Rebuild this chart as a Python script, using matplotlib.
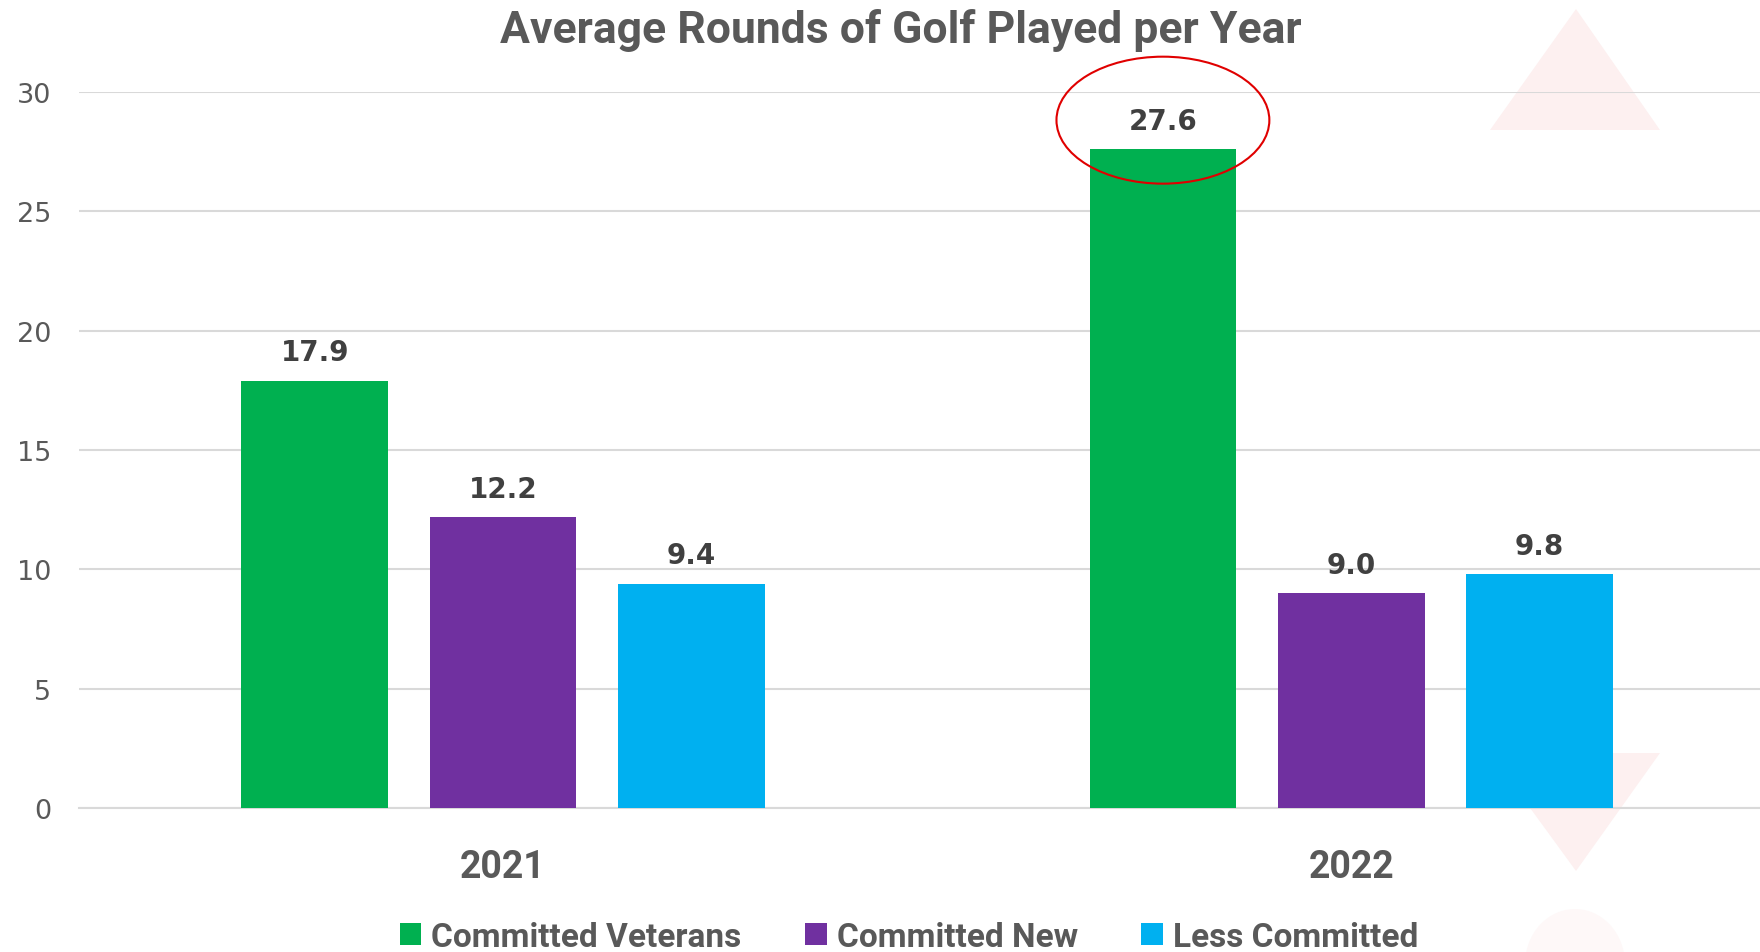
import matplotlib
matplotlib.use("Agg")
import matplotlib.pyplot as plt
from matplotlib.patches import Patch, Ellipse, Polygon
import numpy as np

years = ["2021", "2022"]
series = ["Committed Veterans", "Committed New", "Less Committed"]
values = {
    "Committed Veterans": [17.9, 27.6],
    "Committed New": [12.2, 9.0],
    "Less Committed": [9.4, 9.8],
}
colors = {"Committed Veterans": "#00B050", "Committed New": "#7030A0", "Less Committed": "#00B0F0"}
yticks = [0, 5, 10, 15, 20, 25, 30]

W, H = 1760, 953
fig = plt.figure(figsize=(W / 100, H / 100), dpi=100)
fig.patch.set_facecolor("white")

LBL = ["Roboto", "DejaVu Sans"]

# faint background decorations
pink = "#fdf0f0"
fig.patches.append(Polygon([[1490 / W, 1 - 131 / H], [1660 / W, 1 - 131 / H], [1576 / W, 1 - 10 / H]],
                           closed=True, transform=fig.transFigure, facecolor=pink, edgecolor="none", zorder=0))
fig.patches.append(Polygon([[1490 / W, 1 - 754 / H], [1660 / W, 1 - 754 / H], [1576 / W, 1 - 872 / H]],
                           closed=True, transform=fig.transFigure, facecolor=pink, edgecolor="none", zorder=0))
fig.patches.append(Ellipse((1575 / W, 1 - 965 / H), 100 / W, 110 / H, transform=fig.transFigure,
                           facecolor="#fef8f8", edgecolor="none", zorder=0))

ax = fig.add_axes([79 / W, 1 - 809 / H, 1 - 79 / W, (809 - 93) / H])
ax.set_zorder(2)
ax.set_facecolor("none")

x = np.arange(len(years))
pitch = 0.222
width = 0.173
for i, s in enumerate(series):
    xs = x + (i - 1) * pitch
    ax.bar(xs, values[s], width=width, color=colors[s], zorder=3)
    for xi, v in zip(xs, values[s]):
        ax.text(xi, v + 0.6, f"{v:.1f}", ha="center", va="bottom", fontsize=20,
                fontweight="bold", color="#404040", family="DejaVu Sans", zorder=4)

ax.set_xlim(-0.5, 1.482)
ax.set_ylim(0, 30)
ax.set_yticks(yticks)
ax.set_yticklabels([str(t) for t in yticks], fontsize=19.5, color="#595959", family="DejaVu Sans")
ax.set_xticks(x)
ax.set_xticklabels(years, fontsize=27, fontweight="bold", color="#595959", family=LBL)
ax.tick_params(axis="y", length=0, pad=20)
ax.tick_params(axis="x", length=0, pad=29)
ax.grid(axis="y", color="#d9d9d9", linewidth=1.5, zorder=0)
for sp in ["top", "right", "left"]:
    ax.spines[sp].set_visible(False)
ax.spines["bottom"].set_color("#d9d9d9")
ax.spines["bottom"].set_linewidth(1.5)

# red ellipse highlighting 27.6
ell = Ellipse((1 - pitch, 28.82), 0.251, 5.32, fill=False, edgecolor="#e00000", linewidth=1.5,
              clip_on=False, zorder=5)
ax.add_patch(ell)

fig.text(901 / W, 1 - 30 / H, "Average Rounds of Golf Played per Year", ha="center", va="center",
         fontsize=32, fontweight="bold", color="#595959", family=LBL)

handles = [Patch(facecolor=colors[s], edgecolor="none", label=s) for s in series]
leg = fig.legend(handles=handles, loc="center", bbox_to_anchor=(909 / W, 1 - 938 / H), ncol=3,
                 frameon=False, handlelength=0.65, handleheight=0.65, handletextpad=0.3,
                 columnspacing=1.9, borderaxespad=0,
                 prop={"family": LBL, "weight": "bold", "size": 24})
for t in leg.get_texts():
    t.set_color("#595959")

fig.savefig("out.png", dpi=100)
